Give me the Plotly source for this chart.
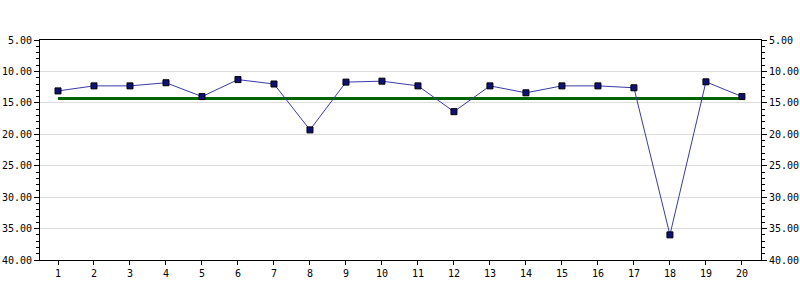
import plotly.graph_objects as go

x_vals = list(range(1, 21))
y_vals = [13.1, 12.3, 12.3, 11.8, 14.0, 11.3, 12.0, 19.3, 11.7, 11.55,
          12.3, 16.4, 12.3, 13.4, 12.3, 12.3, 12.6, 36.0, 11.65, 14.0]
ref_level = [14.3] * 20
y_ticks = [5, 10, 15, 20, 25, 30, 35, 40]

fig = go.Figure()
fig.add_trace(go.Scatter(x=x_vals, y=ref_level, mode="lines",
                         line=dict(color="#006400", width=3), hoverinfo="skip"))
fig.add_trace(go.Scatter(x=x_vals, y=y_vals, mode="lines+markers",
                         line=dict(color="#3a3aa8", width=1),
                         marker=dict(symbol="square", size=6, color="#10107a",
                                     line=dict(color="#000000", width=1))))
# invisible trace for right axis
fig.add_trace(go.Scatter(x=[x_vals[0]], y=[y_vals[0]], yaxis="y2",
                         mode="markers", marker=dict(opacity=0), hoverinfo="skip"))

font = dict(family="DejaVu Sans Mono", size=10, color="#000000")
yax_common = dict(range=[40, 5], tickvals=y_ticks, tickformat=".2f",
                  ticks="outside", ticklen=5, tickcolor="#000",
                  showline=True, linecolor="#000", linewidth=1,
                  zeroline=False, tickfont=font, automargin=False,
                  minor=dict(dtick=1, ticks="outside", ticklen=3, tickcolor="#000", showgrid=False))

fig.update_layout(
    width=800, height=300,
    margin=dict(l=40, r=39, t=40, b=40),
    paper_bgcolor="white", plot_bgcolor="white",
    showlegend=False,
    xaxis=dict(range=[0.5, 20.53], tickvals=x_vals, ticks="outside", ticklen=4,
               tickcolor="#000", showline=True, linecolor="#000", mirror=True,
               showgrid=False, zeroline=False, tickfont=font, automargin=False),
    yaxis=dict(**yax_common, showgrid=True, gridcolor="#dddddd", gridwidth=1),
    yaxis2=dict(**yax_common, overlaying="y", side="right", showgrid=False),
)

fig.write_html("out.html")
